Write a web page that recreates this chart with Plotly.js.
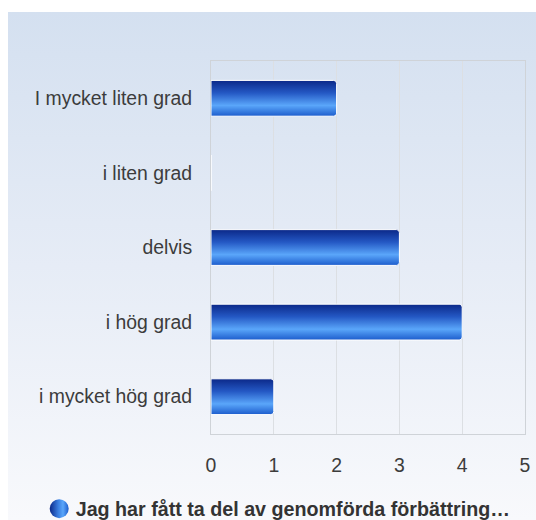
<!DOCTYPE html>
<html>
<head>
<meta charset="utf-8">
<script src="https://cdn.plot.ly/plotly-3.0.1.min.js"></script>
<style>
  html, body { margin: 0; padding: 0; background: #ffffff; }
  #chart {
    position: absolute; left: 8px; top: 12px; width: 528px; height: 508px;
    background: linear-gradient(to bottom, #d4e0f0 0%, #e6ecf6 50%, #f8f9fc 100%);
  }
</style>
</head>
<body>
<div id="chart"></div>
<script>
const categories = ["I mycket liten grad", "i liten grad", "delvis", "i hög grad", "i mycket hög grad"];
const values = [2, 0, 3, 4, 1];
const seriesName = "Jag har fått ta del av genomförda förbättring…";
const xTicks = [0, 1, 2, 3, 4, 5];

const trace = {
  type: "bar",
  orientation: "h",
  y: categories,
  x: values,
  name: seriesName,
  width: 0.48,
  marker: { color: "#2f6fd8", line: { color: "#ffffff", width: 1 }, cornerradius: 3 },
  hoverinfo: "skip",
  showlegend: true
};

const layout = {
  width: 528, height: 508,
  margin: { l: 203, r: 11, t: 49, b: 86 },
  paper_bgcolor: "rgba(0,0,0,0)",
  plot_bgcolor: "rgba(0,0,0,0)",
  font: { family: "Liberation Sans, Arial, sans-serif", size: 19.4, color: "#3c3c3c" },
  xaxis: {
    range: [0, 5], tickvals: xTicks, ticktext: xTicks.map(String),
    showgrid: true, gridcolor: "#dcdfe3", gridwidth: 1,
    zeroline: false, showline: true, linecolor: "#cfd3d8", mirror: true,
    ticks: "", ticklabelstandoff: 14, fixedrange: true
  },
  yaxis: {
    autorange: "reversed", showgrid: false, zeroline: false,
    showline: true, linecolor: "#cfd3d8", mirror: true,
    ticks: "", ticklabelstandoff: 14, fixedrange: true
  },
  showlegend: true,
  legend: {
    orientation: "h", xref: "container", yref: "container",
    x: 0.507, xanchor: "center", y: 0.022, yanchor: "middle",
    font: { family: "Liberation Sans, Arial, sans-serif", size: 19.7, color: "#333333", weight: "bold" },
    bgcolor: "rgba(0,0,0,0)"
  },
  bargap: 0.52
};

Plotly.newPlot("chart", [trace], layout, { staticPlot: true, displayModeBar: false }).then(function (gd) {
  const NS = "http://www.w3.org/2000/svg";
  const svg = gd.querySelector("svg.main-svg");
  let defs = svg.querySelector("defs");
  if (!defs) { defs = document.createElementNS(NS, "defs"); svg.insertBefore(defs, svg.firstChild); }
  function grad(id, x2, y2, stops) {
    const g = document.createElementNS(NS, "linearGradient");
    g.setAttribute("id", id);
    g.setAttribute("x1", "0"); g.setAttribute("y1", "0");
    g.setAttribute("x2", x2); g.setAttribute("y2", y2);
    stops.forEach(function (s) {
      const st = document.createElementNS(NS, "stop");
      st.setAttribute("offset", s[0]);
      st.setAttribute("stop-color", s[1]);
      g.appendChild(st);
    });
    defs.appendChild(g);
  }
  grad("barGrad", "0", "1", [["0%", "#0b2888"], ["35%", "#2458c4"], ["70%", "#5aa6fa"], ["100%", "#1c5ccc"]]);
  grad("legGrad", "1", "0", [["0%", "#0b2888"], ["45%", "#3a7ee0"], ["70%", "#5aa6fa"], ["100%", "#1c5ccc"]]);
  gd.querySelectorAll(".barlayer .point path").forEach(function (p) {
    p.style.fill = "url(#barGrad)";
  });
  gd.querySelectorAll(".legend .legendpoints path").forEach(function (p) {
    p.setAttribute("d", "M13,0A9.5,9.5 0 1,1 3.5,-9.5A9.5,9.5 0 0,1 13,0Z");
    p.style.fill = "url(#legGrad)";
    p.style.stroke = "none";
  });
});
</script>
</body>
</html>
